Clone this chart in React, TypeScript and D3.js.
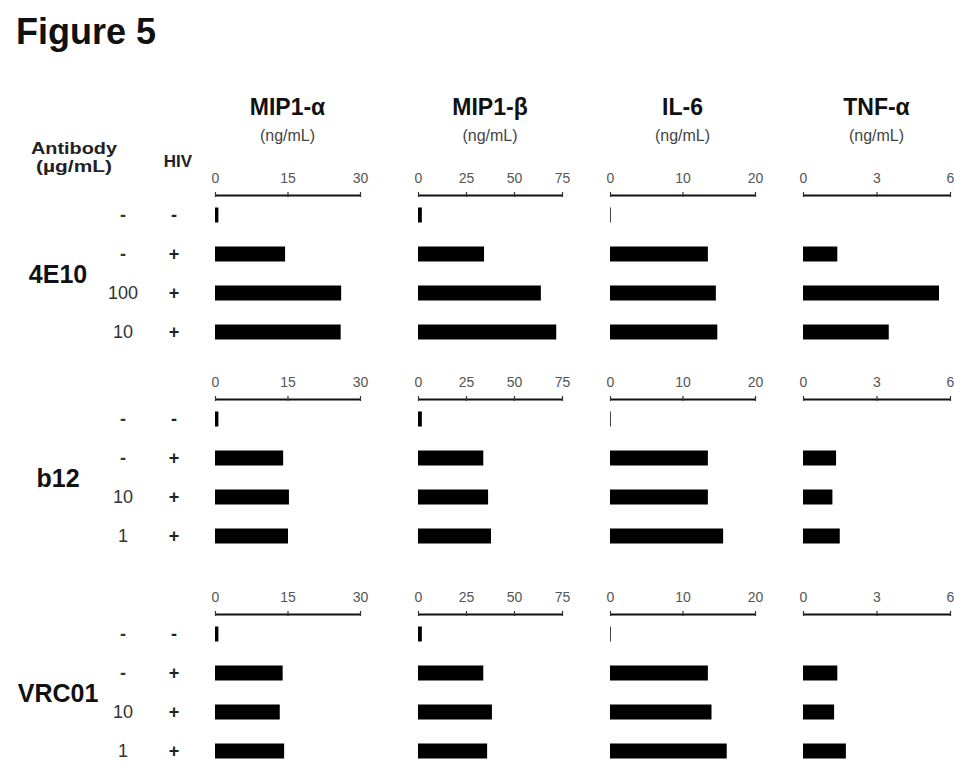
import { useEffect, useRef } from "react"
import * as d3 from "d3"

const WIDTH = 954
const HEIGHT = 763
const FONT = "'Liberation Sans', Arial, Helvetica, sans-serif"

// chart data
const cytokines = ["MIP1-α", "MIP1-β", "IL-6", "TNF-α"]
const cytokineUnit = "(ng/mL)"
const cytokineMax = [30, 75, 20, 6]
const cytokineTicks = [
  [0, 15, 30],
  [0, 25, 50, 75],
  [0, 10, 20],
  [0, 3, 6],
]
const antibodies = ["4E10", "b12", "VRC01"]
const doseLabels = [
  ["-", "-", "100", "10"],
  ["-", "-", "10", "1"],
  ["-", "-", "10", "1"],
]
const hivLabels = ["-", "+", "+", "+"]

const mip1aValues = [
  [0.7, 14.5, 26.1, 26.0],
  [0.7, 14.1, 15.3, 15.1],
  [0.7, 14.0, 13.4, 14.3],
]
const mip1bValues = [
  [2.0, 34.4, 64.0, 72.0],
  [2.0, 34.0, 36.5, 38.0],
  [2.0, 34.0, 38.5, 36.0],
]
const il6Values = [
  [0.1, 13.5, 14.6, 14.8],
  [0.1, 13.5, 13.5, 15.6],
  [0.1, 13.5, 14.0, 16.1],
]
const tnfValues = [
  [0, 1.4, 5.55, 3.5],
  [0, 1.35, 1.2, 1.5],
  [0, 1.4, 1.27, 1.75],
]
const seriesValues = [mip1aValues, mip1bValues, il6Values, tnfValues]

// layout
const panelLeft = [215, 418, 610, 803]
const panelWidth = [145, 144, 145, 147]
const blockAxisY = [195, 399, 614]
const BAR_HEIGHT = 15

export default function App() {
  const svgRef = useRef<SVGSVGElement | null>(null)

  useEffect(() => {
    if (!svgRef.current) return
    const svg = d3.select(svgRef.current)
    svg.selectAll("*").remove()

    svg.append("rect").attr("width", WIDTH).attr("height", HEIGHT).attr("fill", "#fff")

    svg
      .append("text")
      .attr("x", 16)
      .attr("y", 44)
      .attr("font-family", FONT)
      .attr("font-weight", "bold")
      .attr("font-size", 36)
      .attr("fill", "#111")
      .text("Figure 5")

    // column headers
    svg
      .append("text")
      .attr("x", 74)
      .attr("y", 154)
      .attr("text-anchor", "middle")
      .attr("font-family", FONT)
      .attr("font-weight", "bold")
      .attr("font-size", 16)
      .attr("textLength", 86)
      .attr("lengthAdjust", "spacingAndGlyphs")
      .attr("fill", "#222")
      .text("Antibody")
    svg
      .append("text")
      .attr("x", 74)
      .attr("y", 172)
      .attr("text-anchor", "middle")
      .attr("font-family", FONT)
      .attr("font-weight", "bold")
      .attr("font-size", 16)
      .attr("textLength", 76)
      .attr("lengthAdjust", "spacingAndGlyphs")
      .attr("fill", "#222")
      .text("(µg/mL)")
    svg
      .append("text")
      .attr("x", 178)
      .attr("y", 167)
      .attr("text-anchor", "middle")
      .attr("font-family", FONT)
      .attr("font-weight", "bold")
      .attr("font-size", 17)
      .attr("fill", "#222")
      .text("HIV")

    cytokines.forEach((name, c) => {
      const cx = panelLeft[c] + panelWidth[c] / 2
      svg
        .append("text")
        .attr("x", cx)
        .attr("y", 115)
        .attr("text-anchor", "middle")
        .attr("font-family", FONT)
        .attr("font-weight", "bold")
        .attr("font-size", 23)
        .attr("fill", "#111")
        .text(name)
      svg
        .append("text")
        .attr("x", cx)
        .attr("y", 141)
        .attr("text-anchor", "middle")
        .attr("font-family", FONT)
        .attr("font-size", 16)
        .attr("fill", "#444")
        .text(cytokineUnit)
    })

    const rowScale = d3.scalePoint<number>().domain([0, 1, 2, 3]).range([20, 137])

    antibodies.forEach((ab, b) => {
      const axisY = blockAxisY[b]
      const block = svg.append("g").attr("transform", `translate(0,${axisY})`)

      // antibody name
      block
        .append("text")
        .attr("x", 58)
        .attr("y", (rowScale(1)! + rowScale(2)!) / 2)
        .attr("dy", "0.36em")
        .attr("text-anchor", "middle")
        .attr("font-family", FONT)
        .attr("font-weight", "bold")
        .attr("font-size", 25)
        .attr("fill", "#111")
        .text(ab)

      doseLabels[b].forEach((d, i) => {
        block
          .append("text")
          .attr("x", 123)
          .attr("y", rowScale(i)!)
          .attr("dy", "0.36em")
          .attr("text-anchor", "middle")
          .attr("font-family", FONT)
          .attr("font-weight", d === "-" ? "bold" : "normal")
          .attr("font-size", 18)
          .attr("fill", "#333")
          .text(d)
      })
      hivLabels.forEach((h, i) => {
        block
          .append("text")
          .attr("x", 174)
          .attr("y", rowScale(i)!)
          .attr("dy", "0.36em")
          .attr("text-anchor", "middle")
          .attr("font-family", FONT)
          .attr("font-weight", "bold")
          .attr("font-size", 18)
          .attr("fill", "#222")
          .text(h)
      })

      cytokines.forEach((_, c) => {
        const x = d3
          .scaleLinear()
          .domain([0, cytokineMax[c]])
          .range([panelLeft[c], panelLeft[c] + panelWidth[c]])

        const axis = d3
          .axisTop(x)
          .tickValues(cytokineTicks[c])
          .tickSizeInner(3)
          .tickSizeOuter(0)
          .tickPadding(9)
          .tickFormat(d3.format("d"))

        const g = block.append("g").call(axis)
        g.select(".domain").attr("stroke", "#111").attr("stroke-width", 1.8)
        g.selectAll(".tick line").attr("stroke", "#333").attr("stroke-width", 1.2).attr("y2", -3).attr("y1", 2)
        g.selectAll(".tick text")
          .attr("font-family", FONT)
          .attr("font-size", 14)
          .attr("fill", "#555")

        block
          .selectAll(`.bar-${c}`)
          .data(seriesValues[c][b])
          .enter()
          .append("rect")
          .attr("class", `bar-${c}`)
          .attr("x", x(0))
          .attr("y", (_d, i) => rowScale(i)! - BAR_HEIGHT / 2)
          .attr("width", (d) => Math.max(0, x(d) - x(0)))
          .attr("height", BAR_HEIGHT)
          .attr("fill", "#000")
      })
    })
  }, [])

  return (
    <div style={{ position: "absolute", left: 0, top: 0 }}>
      <svg ref={svgRef} width={WIDTH} height={HEIGHT} style={{ display: "block" }}></svg>
    </div>
  )
}
